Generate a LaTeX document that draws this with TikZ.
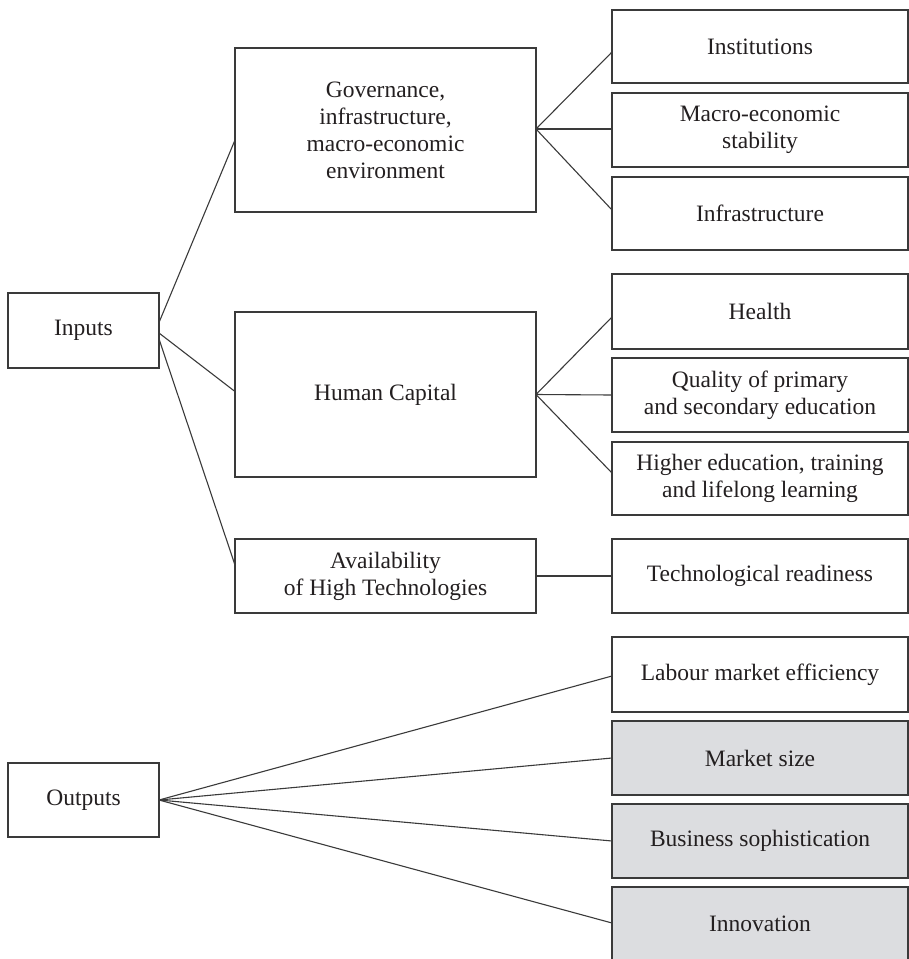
\documentclass[tikz,border=0pt]{standalone}
\usepackage{fontspec}
\setmainfont{Liberation Serif}
\usetikzlibrary{calc}
\definecolor{ink}{HTML}{231F20}
\definecolor{edge}{HTML}{3A3A3A}
\definecolor{shade}{HTML}{DCDDE0}
\begin{document}
\begin{tikzpicture}[x=1pt,y=-1pt,
  box/.style={draw=edge, line width=1.2pt, inner sep=0pt, outer sep=0pt, align=center,
    text=ink, font=\fontsize{23.5}{27}\selectfont, minimum width=#1},
  box/.default=296pt,
  grey/.style={fill=shade},
  link/.style={draw=edge, line width=1.1pt}]
\useasboundingbox (0,0) rectangle (909,959);
% left column
\node[box=151pt, minimum height=75pt] (inputs) at (83.5,330.5) {Inputs};
\node[box=151pt, minimum height=74pt] (outputs) at (83.5,800) {Outputs};
% middle column
\node[box=301pt, minimum height=164pt] (gov) at (385.5,130) {Governance,\\infrastructure,\\macro-economic\\environment};
\node[box=301pt, minimum height=165pt] (hc) at (385.5,394.5) {Human Capital};
\node[box=301pt, minimum height=74pt] (avail) at (385.5,576) {Availability\\of High Technologies};
% right column
\node[box, minimum height=73pt] (inst) at (760,46.5) {Institutions};
\node[box, minimum height=74pt] (macro) at (760,130) {Macro-economic\\stability};
\node[box, minimum height=73pt] (infra) at (760,213.5) {Infrastructure};
\node[box, minimum height=75pt] (health) at (760,311.5) {Health};
\node[box, minimum height=74pt] (quality) at (760,395) {Quality of primary\\and secondary education};
\node[box, minimum height=73pt] (higher) at (760,478.5) {Higher education, training\\and lifelong learning};
\node[box, minimum height=74pt] (tech) at (760,576) {Technological readiness};
\node[box, minimum height=75pt] (labour) at (760,674.5) {Labour market efficiency};
\node[box, grey, minimum height=74pt] (market) at (760,758) {Market size};
\node[box, grey, minimum height=74pt] (business) at (760,841) {Business sophistication};
\node[box, grey, minimum height=74pt] (innov) at (760,924) {Innovation};
% connectors
\draw[link] ($(inputs.east)+(0,-8)$) -- ($(gov.west)+(0,10)$);
\draw[link] ($(inputs.east)+(0,2.5)$) -- ($(hc.west)+(0,-3)$);
\draw[link] ($(inputs.east)+(0,8.5)$) -- ($(avail.west)+(0,-11)$);
\draw[link] ($(gov.east)+(0,-1)$) -- ($(inst.west)+(0,5.5)$);
\draw[link] ($(gov.east)+(0,-1)$) -- ($(macro.west)+(0,-1)$);
\draw[link] ($(gov.east)+(0,-1)$) -- ($(infra.west)+(0,-3.5)$);
\draw[link] (hc.east) -- ($(health.west)+(0,5.5)$);
\draw[link] (hc.east) -- (quality.west);
\draw[link] (hc.east) -- ($(higher.west)+(0,-5.5)$);
\draw[link] (avail.east) -- (tech.west);
\draw[link] (outputs.east) -- ($(labour.west)+(0,1.5)$);
\draw[link] (outputs.east) -- (market.west);
\draw[link] (outputs.east) -- (business.west);
\draw[link] (outputs.east) -- ($(innov.west)+(0,-1)$);
\end{tikzpicture}
\end{document}
